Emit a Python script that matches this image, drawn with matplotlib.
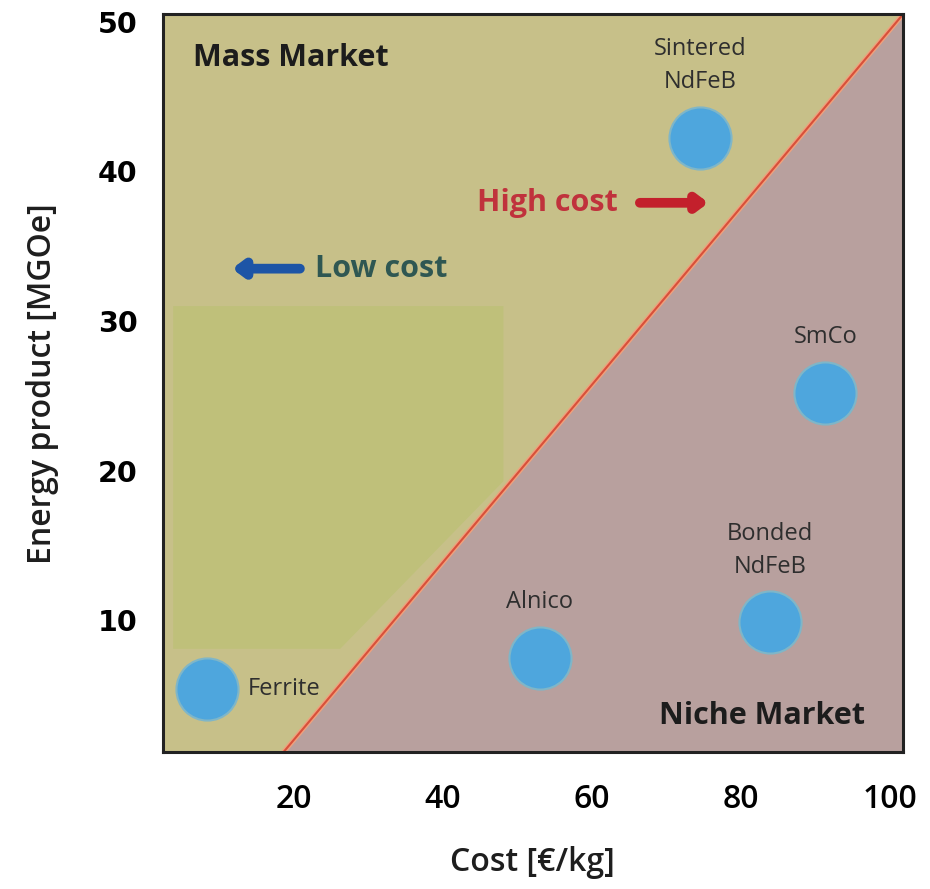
import matplotlib.pyplot as plt
from matplotlib.patches import Polygon

# Magnet families: cost vs. energy product
magnets = ['Ferrite', 'Alnico', 'Bonded\nNdFeB', 'SmCo', 'Sintered\nNdFeB']
cost = [8.3, 53.0, 83.9, 91.3, 74.5]
energy = [5.4, 7.5, 9.9, 25.2, 42.2]

x_ticks = [20, 40, 60, 80, 100]
y_ticks = [10, 20, 30, 40, 50]

# dividing line between mass market and niche market
split_cost = [18.6, 101.7]
split_energy = [1.2, 50.5]

xmin, xmax = 2.4, 101.7
ymin, ymax = 1.2, 50.5

fig = plt.figure(figsize=(9.3, 8.89), dpi=100)
ax = fig.add_axes([0.175, 0.154, 0.796, 0.830])

# background regions
ax.add_patch(Polygon([(xmin, ymin), (split_cost[0], split_energy[0]),
                      (split_cost[1], split_energy[1]), (xmin, ymax)],
                     closed=True, facecolor='#c7c089', edgecolor='none', zorder=0))
ax.add_patch(Polygon([(split_cost[0], split_energy[0]), (xmax, ymin),
                      (split_cost[1], split_energy[1])],
                     closed=True, facecolor='#b8a09e', edgecolor='none', zorder=0))
# lighter panel on the left
ax.add_patch(Polygon([(3.8, 31.0), (48.1, 31.0), (48.1, 19.3), (26.2, 8.1), (3.8, 8.1)],
                     closed=True, facecolor='#bfc07a', edgecolor='none', zorder=0.5))

ax.plot(split_cost, split_energy, color='#f0a07c', lw=3.5, solid_capstyle='butt', zorder=1)
ax.plot(split_cost, split_energy, color='#d8503a', lw=1.5, solid_capstyle='butt', zorder=1.1)

ax.scatter(cost, energy, s=2000, color='#4ea6dd', edgecolors='#7fb6c8', linewidths=1.5, zorder=3)

font = 'Open Sans'
label_pos = {
    'Ferrite': (5.5, 0.0, 'left', 'center'),
    'Alnico': (0.0, 3.7, 'center', 'center'),
    'Bonded\nNdFeB': (0.0, 4.8, 'center', 'center'),
    'SmCo': (0.0, 3.75, 'center', 'center'),
    'Sintered\nNdFeB': (0.0, 4.9, 'center', 'center'),
}
for name, cx, ey in zip(magnets, cost, energy):
    dx, dy, ha, va = label_pos[name]
    ax.text(cx + dx, ey + dy, name, ha=ha, va=va, fontsize=17, family=font,
            color='#2e2e2e', linespacing=1.5, zorder=4)

ax.text(6.4, 47.6, 'Mass Market', ha='left', va='center', fontsize=22,
        family=font, weight='bold', color='#1c1c1c')
ax.text(96.6, 3.6, 'Niche Market', ha='right', va='center', fontsize=22,
        family=font, weight='bold', color='#1c1c1c')
ax.text(44.6, 37.9, 'High cost', ha='left', va='center', fontsize=22,
        family=font, weight='bold', color='#c0323c')
ax.text(22.8, 33.5, 'Low cost', ha='left', va='center', fontsize=22,
        family=font, weight='bold', color='#2f5752')

ax.annotate('', xy=(75.6, 37.9), xytext=(66.4, 37.9),
            arrowprops=dict(arrowstyle='-|>,head_length=0.6,head_width=0.45',
                            color='#c3202c', lw=7, shrinkA=0, shrinkB=0))
ax.annotate('', xy=(11.7, 33.5), xytext=(20.8, 33.5),
            arrowprops=dict(arrowstyle='-|>,head_length=0.6,head_width=0.45',
                            color='#1d55a6', lw=7, shrinkA=0, shrinkB=0))

ax.set_xlim(xmin, xmax)
ax.set_ylim(ymin, ymax)
ax.set_xticks(x_ticks)
ax.set_yticks(y_ticks)
ax.tick_params(axis='y', length=0, pad=18)
ax.tick_params(axis='x', length=0, pad=22)
for lbl in ax.get_xticklabels():
    lbl.set_fontfamily(font)
    lbl.set_fontsize(23)
    lbl.set_fontweight('semibold')
for lbl in ax.get_yticklabels():
    lbl.set_fontfamily('DejaVu Sans')
    lbl.set_fontsize(20.5)
    lbl.set_fontweight('bold')

ax.set_xlabel('Cost [€/kg]', fontsize=23, family=font, weight='semibold',
              color='#1e1e1e', labelpad=22)
ax.set_ylabel('Energy product [MGOe]', fontsize=23, family=font, weight='semibold',
              color='#1e1e1e', labelpad=28)

for sp in ax.spines.values():
    sp.set_linewidth(2.2)
    sp.set_color('#222222')

fig.savefig('out.png', dpi=100)
